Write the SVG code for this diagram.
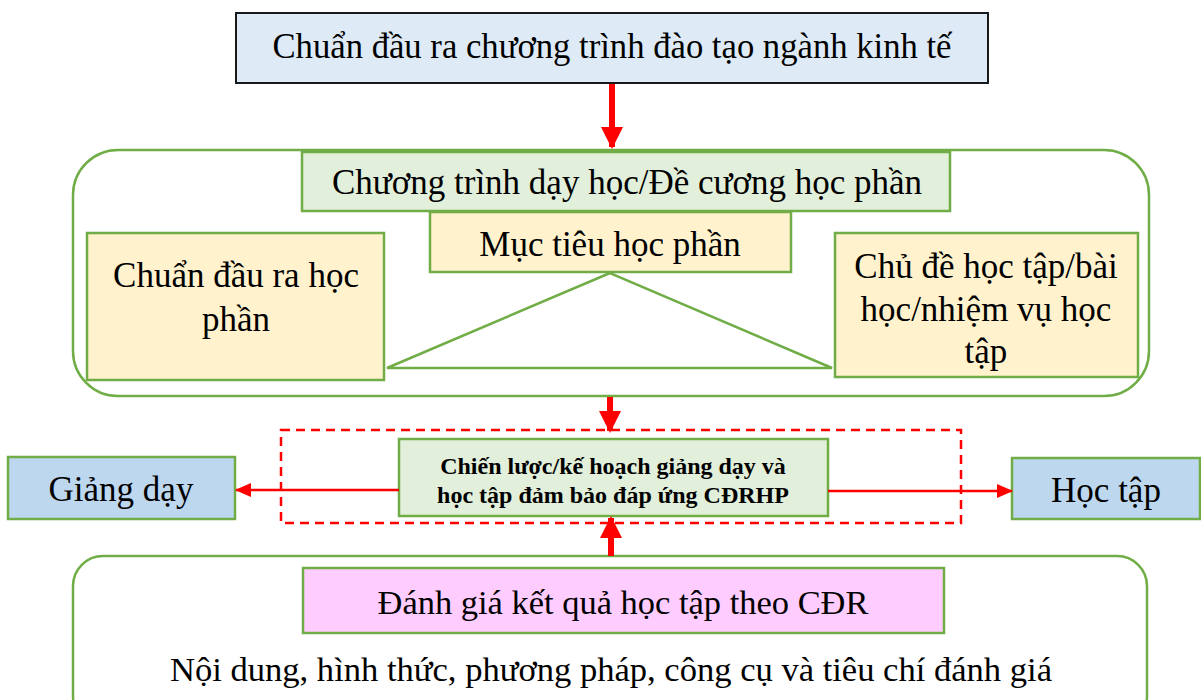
<svg xmlns="http://www.w3.org/2000/svg" width="1201" height="700" viewBox="0 0 1201 700">
  <style>
    .t { font-family: "Liberation Serif", "Times New Roman", serif; fill: #000; text-anchor: middle; }
    .g { stroke: #70ad47; stroke-width: 2.5; }
    .frame { fill: #fff; stroke: #70ad47; stroke-width: 2.5; }
    .yel { fill: #fff2cc; }
    .grn { fill: #e2efda; }
    .blu { fill: #bdd7ee; }
    .fat { stroke: #ff0000; stroke-width: 6; fill: none; }
    .thin { stroke: #ff0000; stroke-width: 2.5; fill: none; }
  </style>
  <defs>
    <marker id="bigHead" markerUnits="userSpaceOnUse" markerWidth="22" markerHeight="22" refX="20" refY="11" orient="auto">
      <path d="M0,0 L22,11 L0,22 Z" fill="#ff0000"/>
    </marker>
    <marker id="smallHead" markerUnits="userSpaceOnUse" markerWidth="16" markerHeight="14" refX="15" refY="7" orient="auto">
      <path d="M0,0 L16,7 L0,14 Z" fill="#ff0000"/>
    </marker>
  </defs>

  <rect width="1201" height="700" fill="#fff"/>

  <!-- programme outcomes -->
  <g id="node-program">
    <rect x="236" y="13" width="752" height="70" fill="#deebf7" stroke="#1a1a1a" stroke-width="2"/>
    <text class="t" x="612" y="58" font-size="36" textLength="679" lengthAdjust="spacingAndGlyphs">Chuẩn đầu ra chương trình đào tạo ngành kinh tế</text>
  </g>

  <!-- course syllabus frame -->
  <g id="node-syllabus">
    <rect class="frame" x="73" y="150" width="1076" height="246" rx="45"/>
    <rect class="g grn" x="302" y="152" width="648" height="59"/>
    <text class="t" x="627" y="194" font-size="35">Chương trình dạy học/Đề cương học phần</text>
  </g>

  <g id="node-objectives">
    <rect class="g yel" x="430" y="212" width="361" height="60"/>
    <text class="t" x="610" y="256" font-size="35">Mục tiêu học phần</text>
  </g>

  <g id="node-triangle">
    <polygon points="610,273 387,368 832,368" fill="none" stroke="#70ad47" stroke-width="2.5"/>
  </g>

  <g id="node-outcomes">
    <rect class="g yel" x="87" y="233" width="297" height="147"/>
    <text class="t" x="236" y="287" font-size="35">Chuẩn đầu ra học</text>
    <text class="t" x="236" y="331" font-size="35">phần</text>
  </g>

  <g id="node-topics">
    <rect class="g yel" x="835" y="233" width="303" height="144"/>
    <text class="t" x="986" y="278" font-size="35">Chủ đề học tập/bài</text>
    <text class="t" x="986" y="321" font-size="35">học/nhiệm vụ học</text>
    <text class="t" x="986" y="363" font-size="35">tập</text>
  </g>

  <!-- teaching / learning strategy -->
  <g id="node-strategy">
    <rect x="281" y="430" width="680" height="93" fill="none" stroke="#ff0000" stroke-width="2.5" stroke-dasharray="9,6"/>
    <rect class="g grn" x="399" y="439" width="429" height="77"/>
    <text class="t" x="613" y="474" font-size="24" font-weight="bold">Chiến lược/kế hoạch giảng dạy và</text>
    <text class="t" x="613" y="503" font-size="24" font-weight="bold">học tập đảm bảo đáp ứng CĐRHP</text>
  </g>

  <g id="node-teaching">
    <rect class="g blu" x="8" y="457" width="227" height="62"/>
    <text class="t" x="121" y="501" font-size="35">Giảng dạy</text>
  </g>

  <g id="node-learning">
    <rect class="g blu" x="1012" y="458" width="188" height="61"/>
    <text class="t" x="1106" y="502" font-size="35">Học tập</text>
  </g>

  <!-- assessment frame -->
  <g id="node-assessment">
    <rect class="frame" x="73" y="556" width="1074" height="170" rx="30"/>
    <rect class="g" x="303" y="568" width="641" height="65" fill="#ffccff"/>
    <text class="t" x="623" y="614" font-size="34" textLength="491" lengthAdjust="spacingAndGlyphs">Đánh giá kết quả học tập theo CĐR</text>
    <text class="t" x="611" y="681" font-size="34" textLength="882" lengthAdjust="spacingAndGlyphs">Nội dung, hình thức, phương pháp, công cụ và tiêu chí đánh giá</text>
  </g>

  <!-- connectors -->
  <g id="connectors">
    <line class="fat" x1="612" y1="84" x2="612" y2="147" marker-end="url(#bigHead)"/>
    <line class="fat" x1="610" y1="397" x2="610" y2="431" marker-end="url(#bigHead)"/>
    <line class="fat" x1="611" y1="556" x2="611" y2="518" marker-end="url(#bigHead)"/>
    <line class="thin" x1="399" y1="490" x2="236" y2="490" marker-end="url(#smallHead)"/>
    <line class="thin" x1="828" y1="491" x2="1012" y2="491" marker-end="url(#smallHead)"/>
  </g>
</svg>
